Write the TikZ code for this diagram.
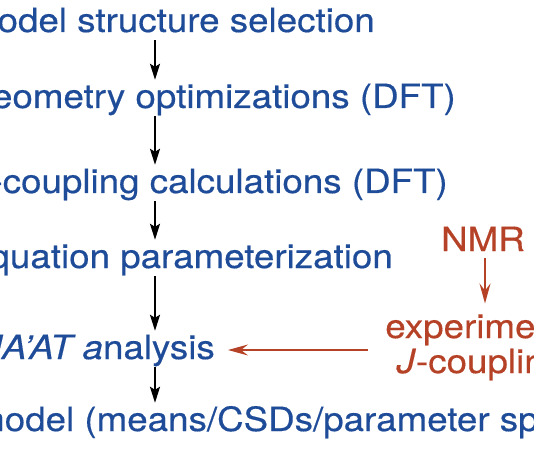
\documentclass[tikz,border=0pt]{standalone}
\usepackage{fontspec}
\setmainfont{TeX Gyre Heros}[FakeStretch=1.1,FakeBold=0.4]
\usetikzlibrary{arrows.meta,positioning}

\definecolor{stageblue}{RGB}{31,76,152}
\definecolor{nmrred}{RGB}{181,66,38}

\tikzset{
  stage/.style={text=stageblue, inner sep=0pt, text height=28pt, text depth=8pt,
    font=\fontsize{33.4}{35}\selectfont},
  exptext/.style={text=nmrred, inner sep=0pt, align=center,
    font=\fontsize{33.4}{35}\selectfont},
  flow/.style={-{Stealth[length=16pt,width=10pt,inset=3pt]}, line width=2pt, black},
  expflow/.style={-{Stealth[length=20pt,width=11pt,inset=7pt]}, line width=1.7pt, nmrred},
}

\begin{document}
\begin{tikzpicture}[x=1pt,y=1pt]
\useasboundingbox (0,0) rectangle (534,-462);
\clip (0,0) rectangle (534,-462);

% workflow steps
\node[stage, anchor=base east] (select) at (375,-32) {model structure selection};
\node[stage, anchor=base east] (geom) at (456,-108) {geometry optimizations (DFT)};
\node[stage, anchor=base east] (jcalc) at (448,-193) {\textit{J}-coupling calculations (DFT)};
\node[stage, anchor=base east] (param) at (393,-268) {equation parameterization};
\node[stage, anchor=base east] (maat) at (215,-359) {\textit{MA’AT a}nalysis};
\node[stage, anchor=base west] (model) at (-26,-431) {model (means/CSDs/parameter space)};

% experimental input
\node[exptext, anchor=base] (nmr) at (483,-251) {NMR};
\node[exptext] (exp) at (490,-347) {experimental\\\textit{J}-couplings};

% arrows
\coordinate (ax) at (155,0);
\draw[flow] (select.south -| ax) -- (geom.north -| ax);
\draw[flow] (geom.south -| ax) -- (jcalc.north -| ax);
\draw[flow] (jcalc.south -| ax) -- (param.north -| ax);
\draw[flow] (param.south -| ax) -- (maat.north -| ax);
\draw[flow] (maat.south -| ax) -- (model.north -| ax);

\draw[expflow, shorten <=7pt, shorten >=10pt] ([xshift=2pt]nmr.south) -- ([xshift=2pt]exp.north -| nmr.south);
\draw[expflow, shorten <=17pt, shorten >=13pt] ([yshift=-3pt]exp.west) -- ([yshift=-3pt]exp.west -| maat.east);
\end{tikzpicture}
\end{document}
